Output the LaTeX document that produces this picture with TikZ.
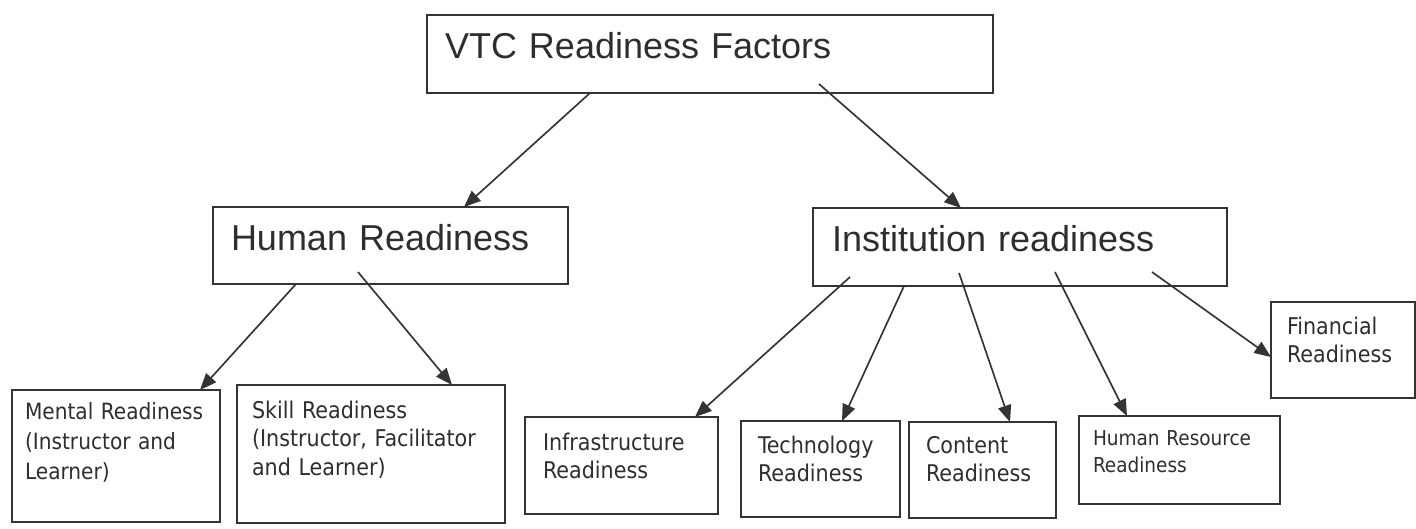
\documentclass[tikz,border=0pt]{standalone}
\usepackage{fontspec}
\usetikzlibrary{arrows.meta,calc}
\setmainfont{Liberation Sans}
\newfontfamily\condfont{DejaVu Sans Condensed}
\definecolor{textc}{RGB}{46,46,46}
\definecolor{linec}{RGB}{52,52,52}
\begin{document}
\begin{tikzpicture}[x=0.75pt,y=-0.75pt,
  box/.style={draw=linec, line width=1.4pt, inner ysep=0pt, outer sep=0pt,
    anchor=north west, align=left, text=textc},
  headfont/.style={font=\fontsize{27pt}{32pt}\selectfont},
  leaffont/.style={font=\condfont\fontsize{17.25pt}{21.5pt}\selectfont},
  smallfont/.style={font=\condfont\fontsize{15.4pt}{20.25pt}\selectfont},
  arr/.style={draw=linec, line width=1.25pt, -{Triangle[length=12.5pt,width=10pt]}}]
\useasboundingbox (0,0) rectangle (1416,528);

% top level
\node[box, headfont, inner xsep=13.5pt, text width=397.5pt,
  text height=33pt, text depth=25.5pt] (vtc) at (427,15) {VTC Readiness Factors};

% second level
\node[box, headfont, inner xsep=13.5pt, text width=239.25pt,
  text height=32.25pt, text depth=25.5pt] (human) at (213,207) {Human Readiness};
\node[box, headfont, inner xsep=14.25pt, text width=282pt,
  text height=32.25pt, text depth=26.25pt] (inst) at (813,208) {Institution readiness};

% human readiness factors
\node[box, font=\condfont\fontsize{16.8pt}{22.5pt}\selectfont,
  inner xsep=9.75pt, text width=136.5pt,
  text height=21.75pt, text depth=77.25pt] (mental) at (12,390)
  {\mbox{Mental Readiness}\\\mbox{(Instructor and}\\Learner)};
\node[box, leaffont, inner xsep=11.25pt, text width=178.5pt,
  text height=24.75pt, text depth=78.75pt] (skill) at (237,385)
  {Skill Readiness\\\mbox{(Instructor, Facilitator}\\and Learner)};

% institution readiness factors
\node[box, leaffont, inner xsep=13.5pt, text width=117.75pt,
  text height=24.75pt, text depth=48pt] (infra) at (525,417)
  {Infrastructure\\Readiness};
\node[box, leaffont, inner xsep=12.75pt, text width=93.75pt,
  text height=24pt, text depth=48pt] (tech) at (741,421)
  {Technology\\Readiness};
\node[box, leaffont, inner xsep=12.75pt, text width=84.75pt,
  text height=23.25pt, text depth=48.75pt] (content) at (909,422)
  {Content\\Readiness};
\node[box, smallfont, inner xsep=10.5pt, text width=129.75pt,
  text height=21.75pt, text depth=44.25pt] (hr) at (1079,416)
  {Human Resource\\Readiness};
\node[box, leaffont, inner xsep=12pt, text width=84pt,
  text height=24pt, text depth=48pt] (fin) at (1271,302)
  {Financial\\Readiness};

% connectors
\draw[arr] ($(vtc.north west)+(163,78)$) -- ($(human.north west)+(251,0)$);
\draw[arr] ($(vtc.north west)+(392,69)$) -- ($(inst.north west)+(148,0)$);

\draw[arr] ($(human.north west)+(83,77)$) -- ($(mental.north west)+(188,0)$);
\draw[arr] ($(human.north west)+(145,65)$) -- ($(skill.north west)+(215,0)$);

\draw[arr] ($(inst.north west)+(37,69)$) -- ($(infra.north west)+(170,0)$);
\draw[arr] ($(inst.north west)+(91,78)$) -- ($(tech.north west)+(101,0)$);
\draw[arr] ($(inst.north west)+(146,65)$) -- ($(content.north west)+(101,0)$);
\draw[arr] ($(inst.north west)+(242,64)$) -- ($(hr.north west)+(48,0)$);
\draw[arr] ($(inst.north west)+(339,64)$) -- ($(fin.north west)+(0,55)$);
\end{tikzpicture}
\end{document}
